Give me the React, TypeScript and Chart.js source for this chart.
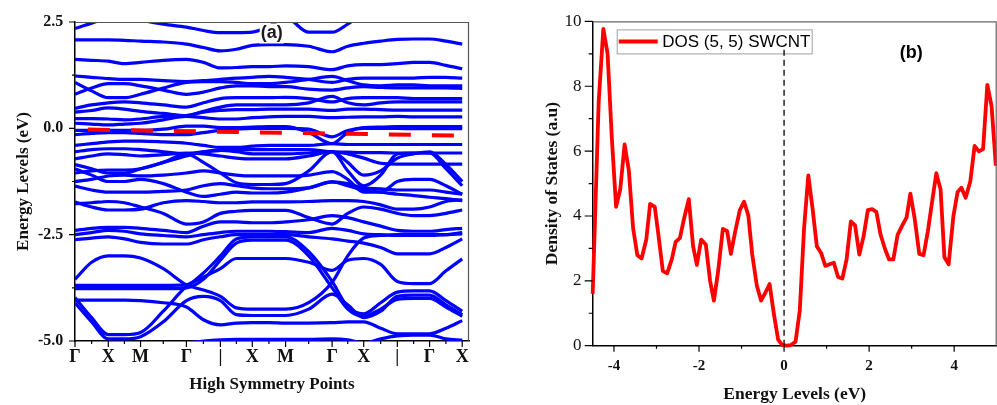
import React, { useEffect, useRef } from 'react';
import { Chart, registerables } from 'chart.js';

Chart.register(...registerables);

const SERIF = "'Liberation Serif', 'Times New Roman', Times, serif";
const SANS = "'Liberation Sans', Arial, Helvetica, sans-serif";

// ---------------- Panel (a): band structure ----------------
const symmetryPointK = [0, 0.98, 1.93, 3.28, 4.28, 5.22, 6.2, 7.57, 8.5, 9.49, 10.44, 11.4];
const symmetryPointLabels = ['Γ', 'X', 'M', 'Γ', '|', 'X', 'M', 'Γ', 'X', '|', 'Γ', 'X'];
const symmetryMinorK = [0.49, 1.455, 2.6, 3.78, 4.75, 5.71, 6.88, 8.03, 9.0, 9.97, 10.92];
const energyTicks = [2.5, 0, -2.5, -5];
const energyMinorTicks = [1.25, -1.25, -3.75];
const bandK = [0, 0.49, 0.98, 1.455, 1.93, 2.6, 3.28, 3.78, 4.28, 4.75, 5.22, 5.71, 6.2, 6.88, 7.57, 8.03, 8.5, 9.0, 9.49, 9.97, 10.44, 10.92, 11.4];

const band01 = [2.35, 2.47, 2.6, 2.65, 2.55, 2.45, 2.38, 2.3, 2.25, 2.25, 2.26, 2.4, 2.6, 2.26, 2.26, 2.45, 2.7, 2.8, 2.8, 2.8, 2.8, 2.8, 2.8];
const band02 = [2.08, 2.08, 2.08, 2.07, 2.05, 2.03, 1.98, 1.9, 1.82, 1.86, 1.95, 1.97, 1.97, 1.93, 1.8, 1.93, 2.0, 2.05, 2.09, 2.1, 2.1, 2.05, 1.98];
const band03 = [1.62, 1.6, 1.58, 1.52, 1.55, 1.6, 1.62, 1.55, 1.42, 1.43, 1.45, 1.45, 1.47, 1.45, 1.38, 1.47, 1.5, 1.5, 1.52, 1.55, 1.55, 1.48, 1.4];
const band04 = [1.23, 1.2, 1.17, 1.15, 1.15, 1.12, 1.1, 1.12, 1.15, 1.18, 1.2, 1.22, 1.2, 1.15, 1.08, 1.15, 1.18, 1.18, 1.18, 1.18, 1.2, 1.2, 1.18];
const band05 = [1.08, 0.88, 0.72, 0.72, 0.8, 0.95, 1.08, 1.1, 1.1, 1.08, 1.05, 1.05, 1.08, 1.15, 1.22, 1.12, 1.02, 1.0, 1.02, 1.02, 1.0, 1.0, 1.0];
const band06 = [0.8, 0.95, 1.05, 1.05, 1.0, 0.9, 0.8, 0.85, 0.95, 1.0, 1.0, 0.98, 0.98, 0.92, 0.9, 0.95, 0.98, 0.96, 0.95, 0.95, 0.95, 0.95, 0.94];
const band07 = [0.47, 0.55, 0.6, 0.62, 0.6, 0.55, 0.5, 0.6, 0.7, 0.72, 0.72, 0.72, 0.73, 0.7, 0.62, 0.7, 0.72, 0.72, 0.72, 0.7, 0.7, 0.7, 0.7];
const band08 = [0.38, 0.42, 0.48, 0.45, 0.4, 0.35, 0.3, 0.4, 0.5, 0.55, 0.55, 0.55, 0.55, 0.6, 0.75, 0.6, 0.55, 0.6, 0.62, 0.62, 0.62, 0.62, 0.62];
const band09 = [0.23, 0.23, 0.22, 0.2, 0.22, 0.28, 0.3, 0.38, 0.42, 0.44, 0.44, 0.45, 0.45, 0.45, 0.42, 0.45, 0.45, 0.44, 0.43, 0.43, 0.43, 0.43, 0.43];
const band10 = [0.12, 0.1, 0.08, 0.1, 0.12, 0.2, 0.28, 0.25, 0.22, 0.22, 0.25, 0.27, 0.28, 0.28, 0.25, 0.26, 0.27, 0.27, 0.28, 0.27, 0.27, 0.27, 0.27];
const band11 = [-0.05, -0.05, -0.05, -0.05, -0.05, -0.02, 0.05, 0.05, 0.02, 0.02, 0.03, 0.04, 0.04, -0.1, -0.36, -0.1, 0.02, 0.03, 0.04, 0.04, 0.04, 0.04, 0.04];
const band12 = [-0.15, -0.12, -0.1, -0.1, -0.12, -0.15, -0.15, -0.1, -0.05, -0.02, 0.0, 0.0, 0.0, -0.02, -0.2, -0.05, 0.0, 0.0, 0.0, -0.01, -0.01, -0.01, -0.01];
const band13 = [-0.4, -0.36, -0.32, -0.3, -0.3, -0.32, -0.35, -0.4, -0.45, -0.45, -0.42, -0.4, -0.4, -0.4, -0.36, -0.38, -0.38, -0.38, -0.38, -0.38, -0.38, -0.38, -0.38];
const band14 = [-0.55, -0.5, -0.48, -0.48, -0.5, -0.55, -0.6, -0.55, -0.52, -0.5, -0.5, -0.5, -0.5, -0.5, -0.55, -0.56, -0.57, -0.57, -0.58, -0.58, -0.58, -0.58, -0.58];
const band15 = [-0.72, -0.65, -0.6, -0.62, -0.65, -0.62, -0.58, -0.6, -0.65, -0.7, -0.72, -0.72, -0.72, -0.65, -0.55, -0.6, -0.7, -0.82, -0.84, -0.84, -0.84, -0.84, -0.84];
const band16 = [-0.85, -0.95, -1.05, -1.05, -0.95, -0.8, -0.65, -0.55, -0.52, -0.55, -0.6, -0.6, -0.6, -0.58, -0.55, -0.8, -1.1, -1.0, -0.7, -0.6, -0.55, -0.85, -1.25];
const band17 = [-1.05, -1.0, -0.98, -0.98, -0.95, -0.8, -0.6, -0.8, -1.05, -1.28, -1.32, -1.32, -1.3, -1.0, -0.55, -1.0, -1.35, -1.1, -0.6, -0.58, -0.58, -0.95, -1.35];
const band18 = [-1.25, -1.2, -1.12, -1.1, -1.12, -1.1, -1.05, -1.0, -1.05, -1.1, -1.12, -1.12, -1.12, -1.1, -1.02, -1.2, -1.5, -1.5, -1.25, -1.2, -1.2, -1.35, -1.55];
const band19 = [-1.36, -1.45, -1.5, -1.5, -1.5, -1.48, -1.45, -1.35, -1.3, -1.35, -1.4, -1.42, -1.42, -1.4, -1.26, -1.35, -1.45, -1.5, -1.55, -1.58, -1.62, -1.65, -1.7];
const band20 = [-1.73, -1.85, -1.92, -1.92, -1.9, -1.75, -1.7, -1.72, -1.75, -1.75, -1.73, -1.73, -1.73, -1.72, -1.7, -1.7, -1.72, -1.8, -1.9, -1.9, -1.85, -1.72, -1.68];
const band21 = [-1.77, -1.75, -1.72, -1.75, -1.85, -2.0, -2.25, -2.2, -2.0, -1.95, -1.93, -1.93, -1.93, -2.1, -2.25, -2.0, -1.85, -1.9, -2.0, -2.05, -2.05, -2.0, -1.92];
const band22 = [-2.4, -2.35, -2.33, -2.33, -2.35, -2.4, -2.45, -2.3, -2.2, -2.2, -2.22, -2.22, -2.2, -2.15, -2.05, -2.1, -2.2, -2.3, -2.4, -2.42, -2.42, -2.38, -2.35];
const band23 = [-2.5, -2.45, -2.4, -2.42, -2.48, -2.52, -2.55, -2.5, -2.45, -2.42, -2.42, -2.42, -2.43, -2.45, -2.35, -2.4, -2.48, -2.5, -2.52, -2.52, -2.52, -2.5, -2.48];
const band24 = [-2.62, -2.58, -2.55, -2.6, -2.68, -2.72, -2.72, -2.62, -2.55, -2.5, -2.5, -2.5, -2.5, -2.55, -2.6, -2.65, -2.7, -2.8, -2.95, -2.95, -2.95, -2.8, -2.6];
const band25 = [-0.95, -1.1, -1.25, -1.25, -1.2, -1.3, -1.5, -1.6, -1.55, -1.5, -1.52, -1.52, -1.5, -1.4, -1.26, -1.3, -1.4, -1.42, -1.45, -1.45, -1.45, -1.5, -1.55];
const band26 = [-3.55, -3.15, -3.0, -3.0, -3.05, -3.3, -3.68, -3.8, -3.95, -4.22, -4.25, -4.25, -4.25, -4.1, -3.62, -3.0, -2.58, -2.52, -2.5, -2.5, -2.5, -2.5, -2.45];
const band27 = [-3.98, -4.45, -4.85, -4.85, -4.8, -4.3, -3.72, -3.5, -3.3, -3.06, -3.06, -3.06, -3.06, -3.15, -3.34, -3.1, -3.06, -3.2, -3.6, -3.65, -3.65, -3.35, -3.07];
const band28 = [-3.69, -3.69, -3.69, -3.69, -3.69, -3.69, -3.68, -3.4, -3.0, -2.6, -2.55, -2.55, -2.55, -2.9, -3.6, -4.2, -4.36, -4.1, -3.85, -3.82, -3.82, -4.05, -4.3];
const band29 = [-3.77, -3.77, -3.77, -3.77, -3.77, -3.77, -3.75, -3.55, -3.1, -2.7, -2.63, -2.63, -2.63, -3.0, -3.75, -4.25, -4.42, -4.25, -4.02, -4.0, -4.0, -4.2, -4.42];
const band30 = [-4.04, -4.04, -4.04, -4.04, -4.05, -4.1, -4.2, -4.5, -4.62, -4.58, -4.57, -4.57, -4.58, -4.58, -4.57, -4.55, -4.55, -4.7, -4.83, -4.83, -4.83, -4.7, -4.52];
const band31 = [-4.1, -4.55, -4.95, -4.95, -4.9, -4.55, -4.05, -3.95, -4.05, -4.38, -4.4, -4.4, -4.4, -4.25, -3.9, -4.15, -4.45, -4.3, -3.95, -3.92, -3.92, -4.15, -4.38];
const band32 = [-5.3, -5.3, -5.3, -5.25, -5.2, -5.1, -5.05, -5.0, -4.97, -4.96, -4.96, -4.96, -4.96, -4.96, -4.95, -4.97, -5.05, -4.95, -4.88, -4.86, -4.86, -4.95, -4.98];

const fermiK = [0.38, 11.25];
const fermiE = [-0.03, -0.17];

// ---------------- Panel (b): density of states ----------------
const dosEnergy = [
  -4.5, -4.36, -4.25, -4.15, -4.05, -3.95, -3.85, -3.75, -3.65, -3.55, -3.45, -3.35, -3.24, -3.15, -3.04,
  -2.95, -2.85, -2.75, -2.64, -2.55, -2.45, -2.35, -2.24, -2.14, -2.05, -1.95, -1.84, -1.74, -1.65, -1.55,
  -1.44, -1.34, -1.25, -1.15, -1.04, -0.94, -0.84, -0.75, -0.64, -0.54, -0.44, -0.34, -0.24, -0.14, -0.04,
  0.06, 0.16, 0.27, 0.37, 0.47, 0.57, 0.67, 0.77, 0.87, 0.97, 1.07, 1.17, 1.27, 1.37, 1.47,
  1.57, 1.67, 1.77, 1.87, 1.97, 2.07, 2.17, 2.27, 2.38, 2.47, 2.57, 2.67, 2.78, 2.88, 2.97,
  3.07, 3.18, 3.28, 3.38, 3.47, 3.58, 3.68, 3.77, 3.87, 3.98, 4.08, 4.17, 4.27, 4.38, 4.48,
  4.58, 4.68, 4.78, 4.88, 4.98,
];
const dosValue = [
  1.6, 7.5, 9.77, 9.0, 6.4, 4.28, 4.84, 6.21, 5.4, 3.62, 2.79, 2.69, 3.27, 4.37, 4.28,
  3.37, 2.3, 2.23, 2.66, 3.2, 3.32, 3.93, 4.52, 3.07, 2.49, 3.27, 3.12, 2.0, 1.39, 2.3,
  3.6, 3.54, 2.83, 3.52, 4.18, 4.44, 4.01, 2.83, 1.85, 1.39, 1.64, 1.9, 0.98, 0.19, 0.02,
  0.0, 0.02, 0.12, 1.09, 3.62, 5.25, 4.23, 3.07, 2.86, 2.46, 2.51, 2.56, 2.12, 2.07, 2.66,
  3.83, 3.71, 2.81, 3.37, 4.18, 4.21, 4.13, 3.42, 2.96, 2.66, 2.66, 3.42, 3.71, 3.95, 4.69,
  3.93, 2.83, 2.79, 3.52, 4.34, 5.32, 4.82, 2.73, 2.51, 3.98, 4.74, 4.87, 4.56, 5.07, 6.16,
  5.99, 6.06, 8.04, 7.38, 5.55,
];
const dosXTicks = [-4, -2, 0, 2, 4];
const dosXMinorTicks = [-3, -1, 1, 3];
const dosYTicks = [0, 2, 4, 6, 8, 10];
const dosYMinorTicks = [1, 3, 5, 7, 9];
const fermiMarkerY = [0, 9.25];

const bands = [
  band01, band02, band03, band04, band05, band06, band07, band08, band09, band10, band11, band12,
  band13, band14, band15, band16, band17, band18, band19, band20, band21, band22, band23, band24,
  band25, band26, band27, band28, band29, band30, band31, band32,
];

type TickCfg = {
  xMajor: number[]; xMinor: number[]; yMajor: number[]; yMinor: number[];
  xMajorLen: number; xMinorLen: number; yMajorLen: number; yMinorLen: number;
  frameColor: string;
};

function makeTickPlugin(cfg: TickCfg) {
  return {
    id: 'tickMarks',
    afterDraw(chart: any) {
      const ctx = chart.ctx;
      const { left, right, top, bottom } = chart.chartArea;
      const xs = chart.scales.x;
      const ys = chart.scales.y;
      ctx.save();
      // frame (top / right)
      ctx.strokeStyle = cfg.frameColor;
      ctx.lineWidth = 1.2;
      ctx.beginPath();
      ctx.moveTo(left, top + 0.5);
      ctx.lineTo(right, top + 0.5);
      ctx.moveTo(right - 0.5, top);
      ctx.lineTo(right - 0.5, bottom);
      ctx.stroke();
      ctx.strokeStyle = '#000';
      ctx.lineWidth = 1.2;
      ctx.beginPath();
      cfg.xMajor.forEach((v) => {
        const p = xs.getPixelForValue(v);
        ctx.moveTo(p, bottom); ctx.lineTo(p, bottom + cfg.xMajorLen);
      });
      cfg.xMinor.forEach((v) => {
        const p = xs.getPixelForValue(v);
        ctx.moveTo(p, bottom); ctx.lineTo(p, bottom + cfg.xMinorLen);
      });
      cfg.yMajor.forEach((v) => {
        const p = ys.getPixelForValue(v);
        ctx.moveTo(left, p); ctx.lineTo(left - cfg.yMajorLen, p);
      });
      cfg.yMinor.forEach((v) => {
        const p = ys.getPixelForValue(v);
        ctx.moveTo(left, p); ctx.lineTo(left - cfg.yMinorLen, p);
      });
      ctx.stroke();
      ctx.restore();
    },
  };
}

const panelALabel = {
  id: 'panelALabel',
  afterDatasetsDraw(chart: any) {
    const ctx = chart.ctx;
    const { left, top } = chart.chartArea;
    const cx = left + 196.7;
    const cy = top + 11.5;
    ctx.save();
    ctx.font = `bold 18px ${SANS}`;
    const w = ctx.measureText('(a)').width;
    ctx.fillStyle = '#fff';
    ctx.fillRect(cx - w / 2 - 1, cy - 10, w + 2, 20);
    ctx.fillStyle = '#1a1a1a';
    ctx.textAlign = 'center';
    ctx.textBaseline = 'middle';
    ctx.fillText('(a)', cx, cy);
    ctx.restore();
  },
};

const panelBDecor = {
  id: 'panelBDecor',
  beforeDatasetsDraw(chart: any) {
    const ctx = chart.ctx;
    const { left, top } = chart.chartArea;
    const bx = left + 24;
    const by = top + 8;
    ctx.save();
    ctx.strokeStyle = '#a0a0a0';
    ctx.lineWidth = 1;
    ctx.strokeRect(bx + 0.5, by + 0.5, 195, 24);
    ctx.strokeStyle = '#ff0000';
    ctx.lineWidth = 4;
    ctx.beginPath();
    ctx.moveTo(bx + 2, by + 12);
    ctx.lineTo(bx + 41, by + 12);
    ctx.stroke();
    ctx.fillStyle = '#000';
    ctx.font = `17px ${SANS}`;
    ctx.textBaseline = 'middle';
    ctx.textAlign = 'left';
    ctx.fillText('DOS (5, 5) SWCNT', bx + 45.5, by + 13);
    ctx.font = `bold 18px ${SANS}`;
    ctx.textAlign = 'center';
    ctx.fillText('(b)', left + 318.5, top + 31.5);
    ctx.restore();
  },
};

export default function App() {
  const leftRef = useRef<HTMLCanvasElement>(null);
  const rightRef = useRef<HTMLCanvasElement>(null);

  useEffect(() => {
    const bandDatasets = bands.map((b) => ({
      data: bandK.map((k, i) => ({ x: k, y: b[i] })),
      borderColor: '#0000ff',
      borderWidth: 3.2,
      pointRadius: 0,
      cubicInterpolationMode: 'monotone' as const,
      fill: false,
      order: 1,
    }));
    const fermiDataset = {
      data: fermiK.map((k, i) => ({ x: k, y: fermiE[i] })),
      borderColor: '#ff0000',
      borderWidth: 4,
      borderDash: [22, 21],
      borderCapStyle: 'butt' as const,
      pointRadius: 0,
      fill: false,
      order: 0,
    };

    const left = new Chart(leftRef.current as HTMLCanvasElement, {
      type: 'line',
      data: { datasets: [fermiDataset, ...bandDatasets] as any },
      options: {
        responsive: false,
        animation: false,
        devicePixelRatio: 1,
        events: [],
        layout: { padding: { left: 0, top: 22, right: 31, bottom: 0 } },
        plugins: { legend: { display: false }, tooltip: { enabled: false } },
        scales: {
          x: {
            type: 'linear',
            min: 0,
            max: 11.6,
            afterBuildTicks: (s: any) => { s.ticks = symmetryPointK.map((v) => ({ value: v })); },
            afterFit: (s: any) => { s.height = 64; },
            grid: { display: false, drawTicks: false },
            border: { display: true, color: '#000', width: 1.5 },
            ticks: {
              autoSkip: false,
              maxRotation: 0,
              padding: 6,
              color: '#111',
              font: { family: SERIF, size: 18, weight: 'bold' },
              callback: (_v: any, i: number) => symmetryPointLabels[i],
            },
            title: {
              display: true,
              text: 'High Symmetry Points',
              color: '#111',
              font: { family: SERIF, size: 17, weight: 'bold' },
              padding: { top: 0, bottom: 10 },
            },
          },
          y: {
            type: 'linear',
            min: -5,
            max: 2.5,
            afterBuildTicks: (s: any) => { s.ticks = energyTicks.map((v) => ({ value: v })); },
            afterFit: (s: any) => { s.width = 75; },
            grid: { display: false, drawTicks: false },
            border: { display: true, color: '#000', width: 1.5 },
            ticks: {
              padding: 11.7,
              color: '#111',
              font: { family: SERIF, size: 16, weight: 'bold' },
              callback: (v: any) => Number(v).toFixed(1),
            },
            title: {
              display: true,
              text: 'Energy Levels (eV)',
              color: '#111',
              font: { family: SERIF, size: 17, weight: 'bold' },
              padding: { top: 13.8, bottom: 0 },
            },
          },
        },
      },
      plugins: [
        makeTickPlugin({
          xMajor: symmetryPointK, xMinor: symmetryMinorK, yMajor: energyTicks, yMinor: energyMinorTicks,
          xMajorLen: 6, xMinorLen: 3, yMajorLen: 6, yMinorLen: 3, frameColor: '#555',
        }),
        panelALabel,
      ],
    });

    const right = new Chart(rightRef.current as HTMLCanvasElement, {
      type: 'line',
      data: {
        datasets: [
          {
            data: fermiMarkerY.map((y) => ({ x: 0, y })),
            borderColor: '#000',
            borderWidth: 1.3,
            borderDash: [6, 4],
            pointRadius: 0,
            fill: false,
            order: 0,
          },
          {
            data: dosEnergy.map((e, i) => ({ x: e, y: dosValue[i] })),
            borderColor: '#ff0000',
            borderWidth: 3.8,
            borderJoinStyle: 'round',
            tension: 0,
            pointRadius: 0,
            fill: false,
            clip: false,
            order: 1,
          },
        ] as any,
      },
      options: {
        responsive: false,
        animation: false,
        devicePixelRatio: 1,
        events: [],
        layout: { padding: { left: 0, top: 17.3, right: 0.3, bottom: 0 } },
        plugins: { legend: { display: false }, tooltip: { enabled: false } },
        scales: {
          x: {
            type: 'linear',
            min: -4.5,
            max: 5,
            afterBuildTicks: (s: any) => { s.ticks = dosXTicks.map((v) => ({ value: v })); },
            afterFit: (s: any) => { s.height = 59.3; },
            grid: { display: false, drawTicks: false },
            border: { display: true, color: '#000', width: 1.5 },
            ticks: {
              autoSkip: false,
              maxRotation: 0,
              padding: 11.3,
              color: '#111',
              font: { family: SERIF, size: 15, weight: 'bold' },
              callback: (v: any) => String(v),
            },
            title: {
              display: true,
              text: 'Energy Levels (eV)',
              color: '#111',
              font: { family: SERIF, size: 17.5, weight: 'bold' },
              padding: { top: 0, bottom: 0.5 },
            },
          },
          y: {
            type: 'linear',
            min: 0,
            max: 10,
            afterBuildTicks: (s: any) => { s.ticks = dosYTicks.map((v) => ({ value: v })); },
            afterFit: (s: any) => { s.width = 92.7; },
            grid: { display: false, drawTicks: false },
            border: { display: true, color: '#000', width: 1.5 },
            ticks: {
              padding: 11.2,
              color: '#111',
              font: { family: SERIF, size: 17 },
              callback: (v: any) => String(v),
            },
            title: {
              display: true,
              text: 'Density of States (a.u)',
              color: '#111',
              font: { family: SERIF, size: 17.5, weight: 'bold' },
              padding: { top: 41.5, bottom: 0 },
            },
          },
        },
      },
      plugins: [
        makeTickPlugin({
          xMajor: dosXTicks, xMinor: dosXMinorTicks, yMajor: dosYTicks, yMinor: dosYMinorTicks,
          xMajorLen: 6, xMinorLen: 3, yMajorLen: 8, yMinorLen: 4, frameColor: '#666',
        }),
        panelBDecor,
      ],
    });

    return () => {
      left.destroy();
      right.destroy();
    };
  }, []);

  return (
    <div style={{ position: 'fixed', left: 0, top: 0, width: 997, height: 405, background: '#fff' }}>
      <canvas
        ref={leftRef}
        width={500}
        height={405}
        style={{ position: 'absolute', left: 0, top: 0, width: 500, height: 405 }}
      />
      <canvas
        ref={rightRef}
        width={497}
        height={405}
        style={{ position: 'absolute', left: 500, top: 0, width: 497, height: 405 }}
      />
    </div>
  );
}
